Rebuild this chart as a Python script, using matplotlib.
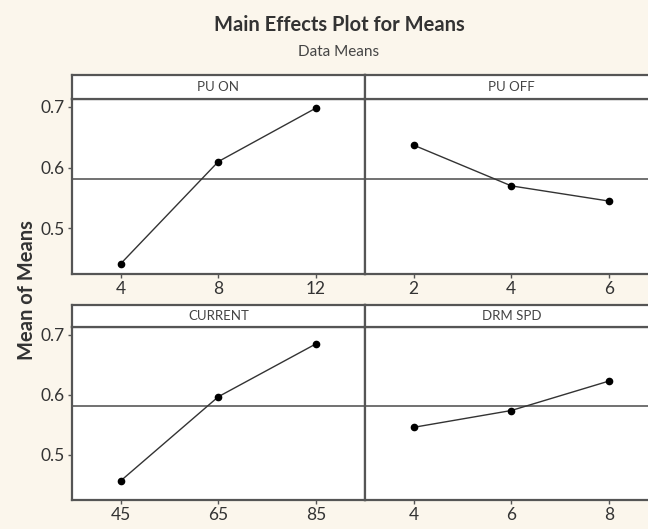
import matplotlib
matplotlib.use("Agg")
import matplotlib.pyplot as plt

matplotlib.rc("font", family="Lato")

# factor names, levels and the mean response at each level
factors = ["PU ON", "PU OFF", "CURRENT", "DRM SPD"]
pu_on_levels = ["4", "8", "12"]
pu_on_means = [0.442, 0.610, 0.698]
pu_off_levels = ["2", "4", "6"]
pu_off_means = [0.637, 0.570, 0.545]
current_levels = ["45", "65", "85"]
current_means = [0.457, 0.597, 0.685]
drm_spd_levels = ["4", "6", "8"]
drm_spd_means = [0.546, 0.574, 0.623]
grand_mean = 0.581
y_ticks = [0.5, 0.6, 0.7]

bg = "#fbf6ec"
frame = "#555555"

fig = plt.figure(figsize=(6.48, 5.29), dpi=100, facecolor=bg)

left, width = 0.111, 0.452
rows = [(0.482, 0.331, 0.045), (0.0548, 0.327, 0.041)]  # bottom, data height, strip height
panels = [
    (pu_on_levels, pu_on_means),
    (pu_off_levels, pu_off_means),
    (current_levels, current_means),
    (drm_spd_levels, drm_spd_means),
]

for i, (levels, means) in enumerate(panels):
    r, c = divmod(i, 2)
    bottom, h, sh = rows[r]
    x0 = left + c * width
    ax = fig.add_axes([x0, bottom, width, h])
    strip = fig.add_axes([x0, bottom + h, width, sh])

    ax.set_facecolor("white")
    ax.axhline(grand_mean, color="#666666", lw=1.3, zorder=1)
    ax.plot(levels, means, color="#333333", lw=1.0, marker="o",
            ms=4.5, mfc="black", mec="black", zorder=3)
    ax.set_xlim(-0.5, 2.5)
    ax.set_ylim(0.425, 0.713)
    ax.set_yticks(y_ticks)
    ax.tick_params(direction="out", length=3, width=1, color=frame,
                   labelsize=12.5, labelcolor="#333333", pad=2)
    if c == 1:
        ax.tick_params(axis="y", left=False, labelleft=False)
    for s in ax.spines.values():
        s.set_color(frame)
        s.set_linewidth(1.6)

    strip.set_facecolor("white")
    strip.set_xticks([])
    strip.set_yticks([])
    for s in strip.spines.values():
        s.set_color(frame)
        s.set_linewidth(1.6)
    strip.text(0.5, 0.5, factors[i], ha="center", va="center",
               fontsize=9.5, color="#444444", transform=strip.transAxes)

fig.text(0.523, 0.952, "Main Effects Plot for Means", ha="center",
         va="center", fontsize=14.5, fontweight="bold", color="#333333")
fig.text(0.523, 0.902, "Data Means", ha="center", va="center",
         fontsize=11, color="#444444")
fig.text(0.042, 0.452, "Mean of Means", rotation=90, ha="center",
         va="center", fontsize=14.5, fontweight="bold", color="#333333")

fig.savefig("out.png", dpi=100, facecolor=bg)
